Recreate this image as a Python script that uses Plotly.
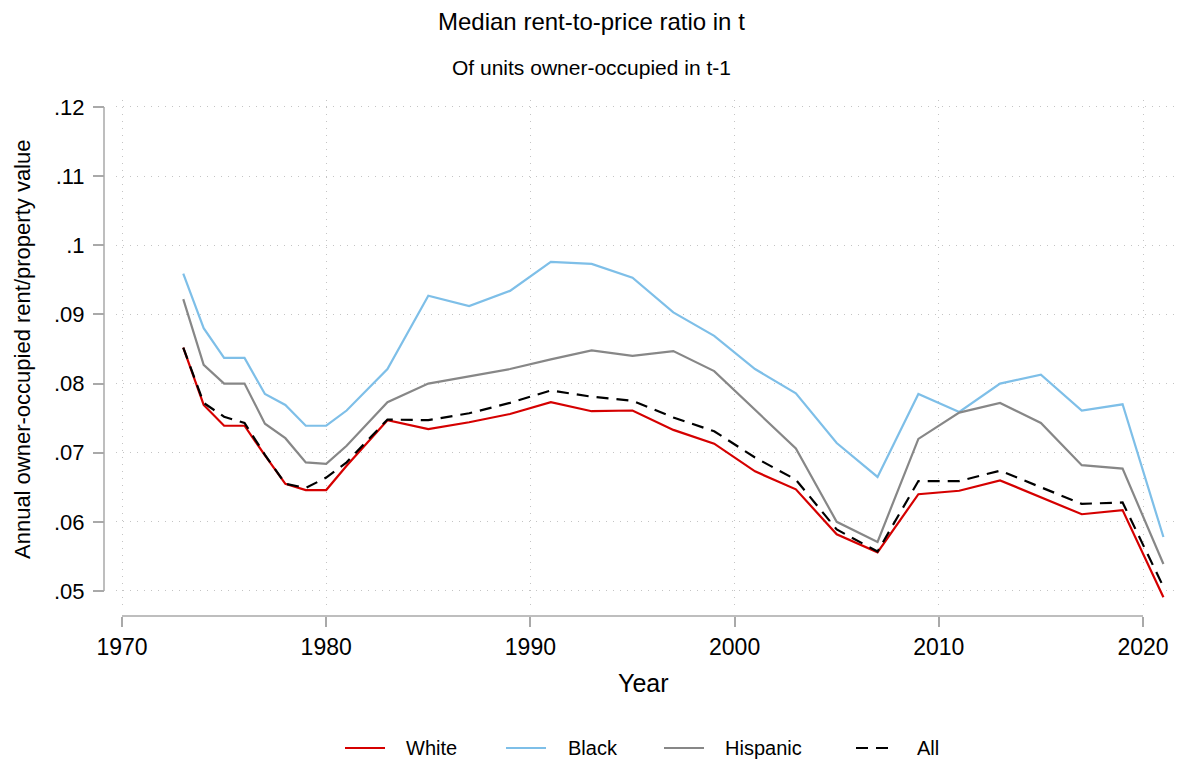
import plotly.graph_objects as go

years = [1973, 1974, 1975, 1976, 1977, 1978, 1979, 1980, 1981, 1983, 1985, 1987, 1989,
         1991, 1993, 1995, 1997, 1999, 2001, 2003, 2005, 2007, 2009, 2011, 2013, 2015,
         2017, 2019, 2021]

white = [0.0852, 0.0769, 0.0739, 0.0739, 0.0696, 0.0655, 0.0646, 0.0646, 0.0681, 0.0747,
         0.0734, 0.0744, 0.0756, 0.0773, 0.0760, 0.0761, 0.0733, 0.0713, 0.0673, 0.0647,
         0.0582, 0.0556, 0.0640, 0.0645, 0.0660, 0.0636, 0.0611, 0.0617, 0.0491]

black = [0.0959, 0.0880, 0.0837, 0.0837, 0.0785, 0.0769, 0.0739, 0.0739, 0.0761, 0.0821,
         0.0927, 0.0912, 0.0934, 0.0976, 0.0973, 0.0953, 0.0903, 0.0869, 0.0821, 0.0786,
         0.0714, 0.0665, 0.0785, 0.0759, 0.0800, 0.0813, 0.0761, 0.0770, 0.0578]

hispanic = [0.0922, 0.0827, 0.0800, 0.0800, 0.0742, 0.0721, 0.0686, 0.0684, 0.0710, 0.0773,
            0.0800, 0.0810, 0.0821, 0.0835, 0.0848, 0.0840, 0.0847, 0.0818, 0.0762, 0.0706,
            0.0600, 0.0571, 0.0720, 0.0758, 0.0772, 0.0743, 0.0682, 0.0677, 0.0539]

all_units = [0.0852, 0.0772, 0.0752, 0.0743, 0.0697, 0.0655, 0.0649, 0.0664, 0.0686, 0.0748,
             0.0747, 0.0757, 0.0772, 0.0790, 0.0781, 0.0775, 0.0751, 0.0731, 0.0693, 0.0661,
             0.0589, 0.0557, 0.0659, 0.0659, 0.0674, 0.0650, 0.0626, 0.0628, 0.0506]

series_names = ["White", "Black", "Hispanic", "All"]
series_values = [white, black, hispanic, all_units]
series_colors = ["#d50000", "#7ebfe8", "#878787", "#000000"]
series_dash = ["solid", "solid", "solid", "12px,8px"]

x_tickvals = [1970, 1980, 1990, 2000, 2010, 2020]
x_ticktext = ["1970", "1980", "1990", "2000", "2010", "2020"]
y_tickvals = [0.05, 0.06, 0.07, 0.08, 0.09, 0.10, 0.11, 0.12]
y_ticktext = [".05", ".06", ".07", ".08", ".09", ".1", ".11", ".12"]

title_text = "Median rent-to-price ratio in t"
subtitle_text = "Of units owner-occupied in t-1"
x_title = "Year"
y_title = "Annual owner-occupied rent/property value"

FONT = "Liberation Sans, Arial, Helvetica, sans-serif"
AXIS_GRAY = "#a9a9a9"

# page body has an 8px margin; lay the figure out in screen pixels and shift
OFF = 8
W, H = 1184 - OFF, 763 - OFF
ML = 104 - OFF          # y-axis line position (screen x = 104)
MR = 1184 - 1180        # plot region right edge at screen x = 1180
MT = 100 - OFF          # plot region top at screen y = 100
MB = 763 - 616          # x-axis line at screen y = 616
PW, PH = W - ML - MR, H - MT - MB


def px_to_paper_x(px):
    return (px - OFF - ML) / PW


def px_to_paper_y(py):
    return (H - MB - (py - OFF)) / PH


fig = go.Figure()
for name, vals, col, dash in zip(series_names, series_values, series_colors, series_dash):
    fig.add_trace(go.Scatter(
        x=years, y=vals, mode="lines", name=name, showlegend=False,
        line=dict(color=col, width=2.2, dash=dash),
    ))

fig.update_layout(
    width=W, height=H,
    margin=dict(l=ML, r=MR, t=MT, b=MB, autoexpand=False),
    plot_bgcolor="white", paper_bgcolor="white",
    font=dict(family=FONT, color="#000000"),
    xaxis=dict(
        domain=[px_to_paper_x(116), 1.0],
        anchor="free", position=0.0,
        range=[1969.706, 2021.812],
        tickvals=x_tickvals, ticktext=x_ticktext,
        ticks="outside", ticklen=10, tickwidth=1.5, tickcolor=AXIS_GRAY,
        tickfont=dict(size=23, family=FONT, color="#000000"),
        showgrid=True, gridcolor="#c4c4c4", gridwidth=1, griddash="1px,6px",
        showline=False, zeroline=False,
    ),
    yaxis=dict(
        domain=[px_to_paper_y(610), 1.0],
        anchor="free", position=0.0,
        range=[0.04725, 0.12101],
        tickvals=y_tickvals, ticktext=y_ticktext,
        ticks="outside", ticklen=11, tickwidth=1.5, tickcolor=AXIS_GRAY,
        ticklabelstandoff=4,
        tickfont=dict(size=22, family=FONT, color="#000000"),
        showgrid=True, gridcolor="#c4c4c4", gridwidth=1, griddash="1px,6px",
        showline=False, zeroline=False,
    ),
)

# axis lines spanning only the tick range (Stata style)
fig.add_shape(type="line", xref="x", yref="paper",
              x0=x_tickvals[0], x1=x_tickvals[-1], y0=0, y1=0,
              line=dict(color=AXIS_GRAY, width=1.5))
fig.add_shape(type="line", xref="paper", yref="y",
              x0=0, x1=0, y0=y_tickvals[0], y1=y_tickvals[-1],
              line=dict(color=AXIS_GRAY, width=1.5))

# titles
fig.add_annotation(text=title_text, xref="paper", yref="paper",
                   x=px_to_paper_x(591), y=px_to_paper_y(22), xanchor="center", yanchor="middle",
                   showarrow=False, font=dict(size=24, family=FONT, color="#000000"))
fig.add_annotation(text=subtitle_text, xref="paper", yref="paper",
                   x=px_to_paper_x(591), y=px_to_paper_y(68), xanchor="center", yanchor="middle",
                   showarrow=False, font=dict(size=21, family=FONT, color="#000000"))
fig.add_annotation(text=x_title, xref="paper", yref="paper",
                   x=px_to_paper_x(643), y=px_to_paper_y(683), xanchor="center", yanchor="middle",
                   showarrow=False, font=dict(size=25, family=FONT, color="#000000"))
fig.add_annotation(text=y_title, xref="paper", yref="paper", textangle=-90,
                   x=px_to_paper_x(22), y=px_to_paper_y(350), xanchor="center", yanchor="middle",
                   showarrow=False, font=dict(size=22, family=FONT, color="#000000"))

# legend (drawn manually to match the Stata layout)
legend_line_start = [345, 506, 664, 856]
legend_text_start = [404, 566, 723, 915]
legend_y = 748
for name, col, dash, lx, tx in zip(series_names, series_colors, series_dash,
                                   legend_line_start, legend_text_start):
    fig.add_shape(type="line", xref="paper", yref="paper",
                  x0=px_to_paper_x(lx), x1=px_to_paper_x(lx + 40),
                  y0=px_to_paper_y(legend_y), y1=px_to_paper_y(legend_y),
                  line=dict(color=col, width=2.2, dash=dash))
    fig.add_annotation(text=name, xref="paper", yref="paper",
                       x=px_to_paper_x(tx), y=px_to_paper_y(legend_y),
                       xanchor="left", yanchor="middle", showarrow=False,
                       font=dict(size=20, family=FONT, color="#000000"))

fig.write_html("out.html")
